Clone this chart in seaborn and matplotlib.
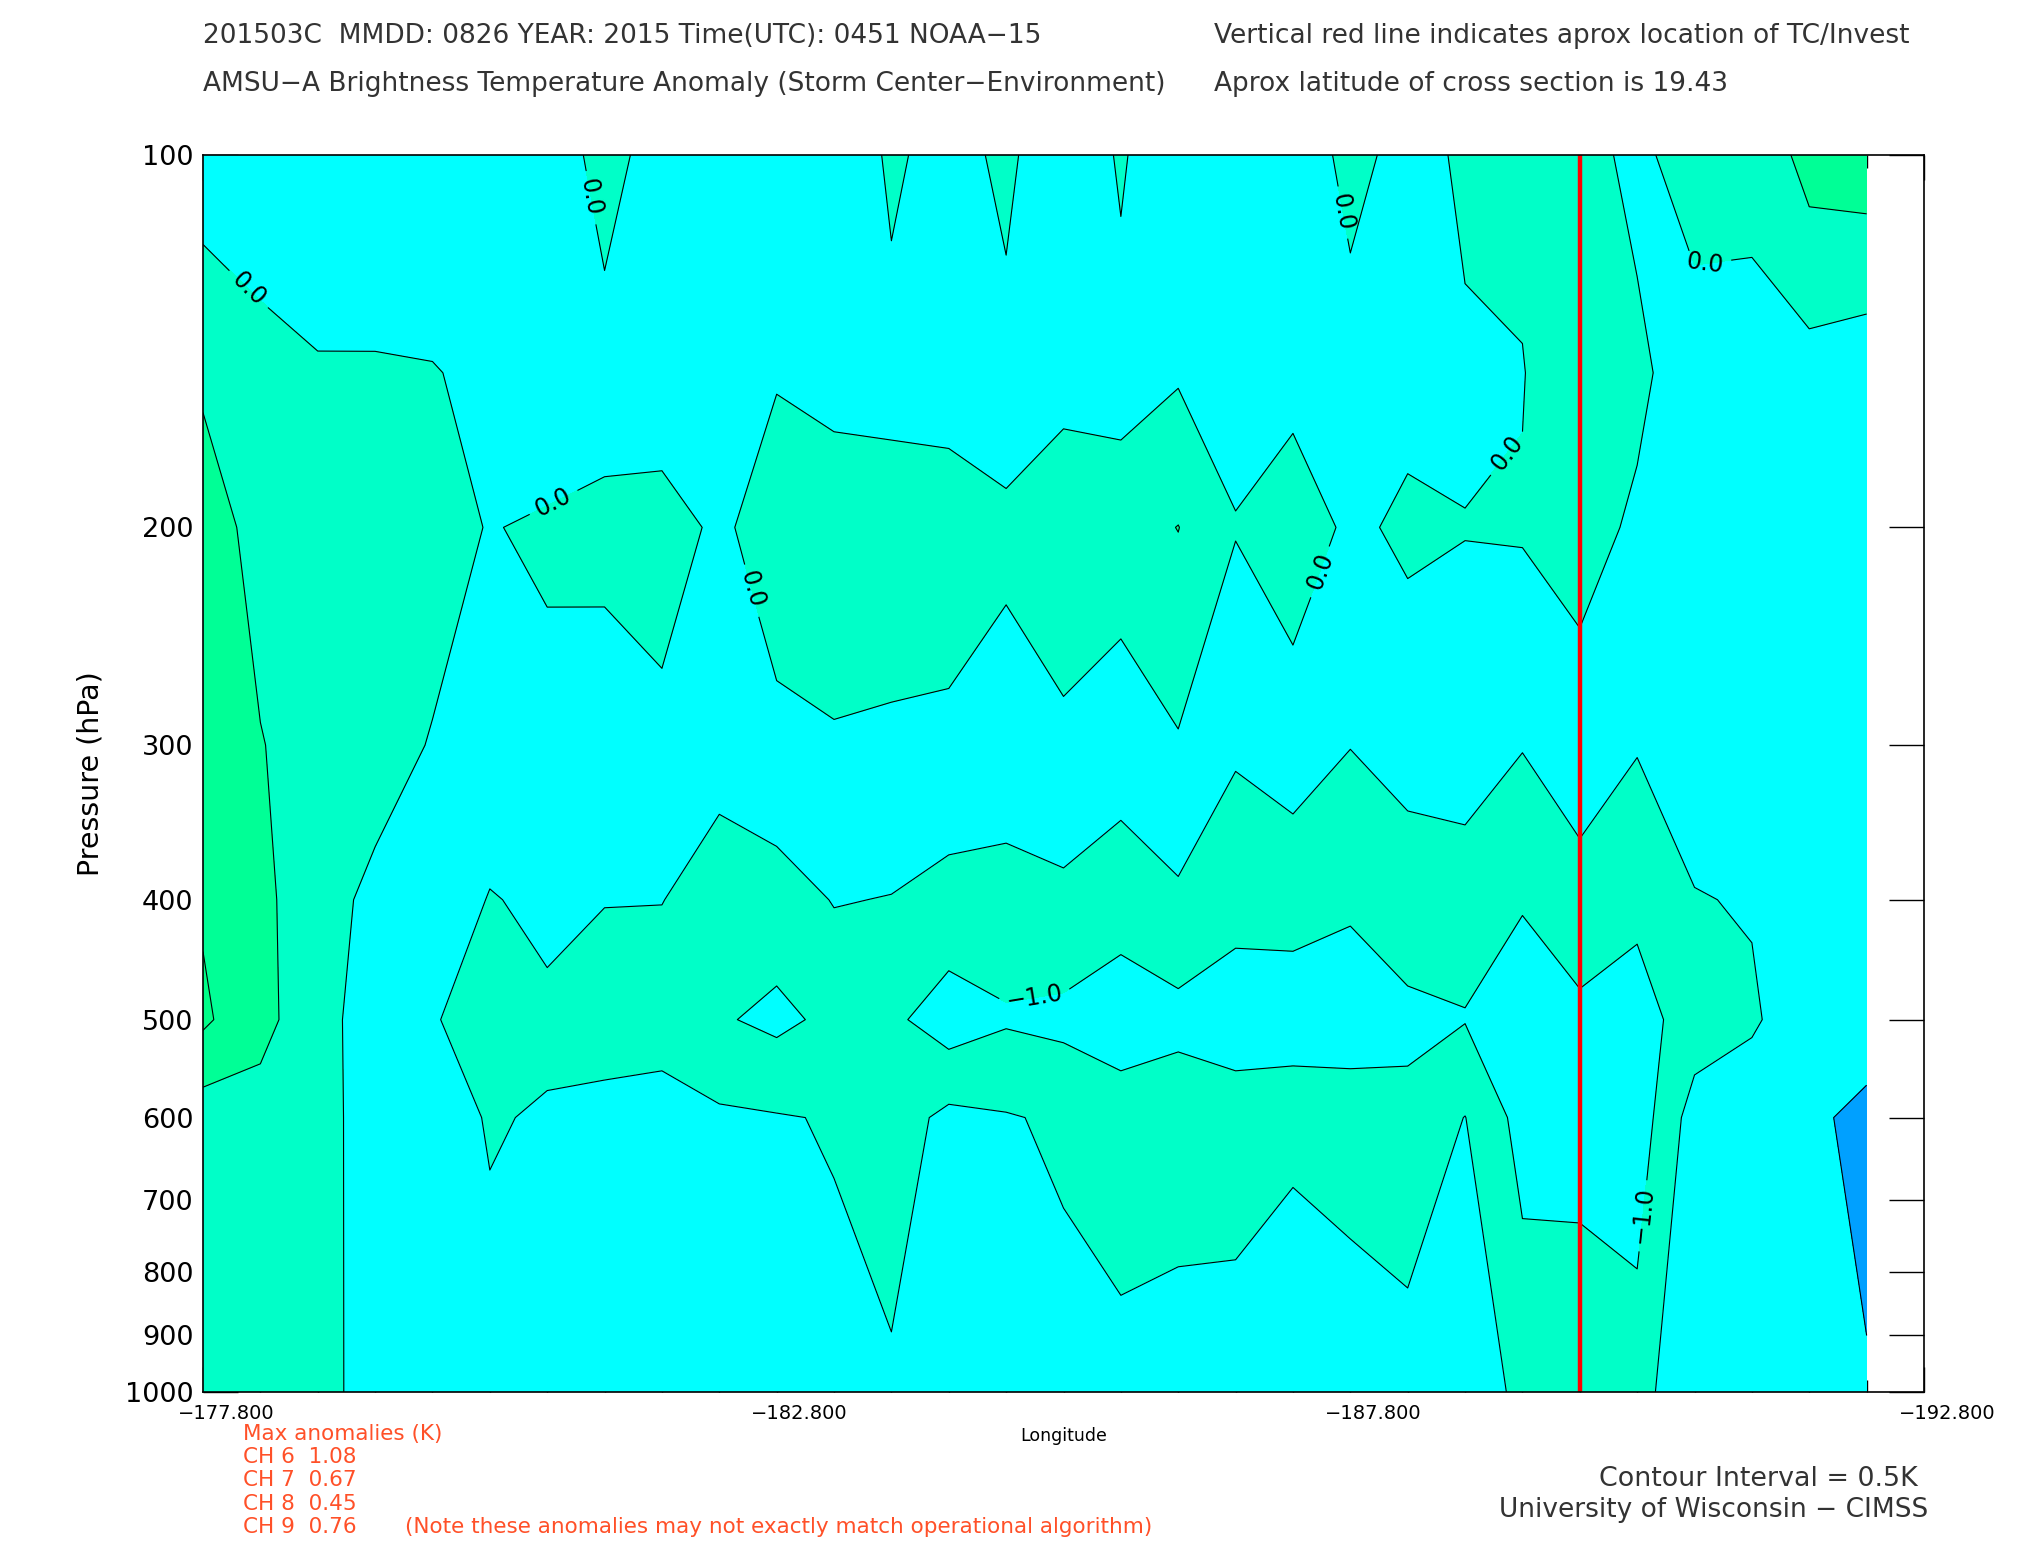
import numpy as np
import pandas as pd
import matplotlib
matplotlib.use("Agg")
import matplotlib.pyplot as plt
import matplotlib.transforms as mtransforms
import seaborn as sns
from matplotlib.ticker import FixedLocator, NullLocator

sns.set_theme(style="white")
plt.rcParams['font.family'] = ['DejaVu Sans']

# ---------------- data ----------------
LONGITUDES = [-177.8, -178.3, -178.8, -179.3, -179.8, -180.3, -180.8, -181.3, -181.8, -182.3,
              -182.8, -183.3, -183.8, -184.3, -184.8, -185.3, -185.8, -186.3, -186.8, -187.3,
              -187.8, -188.3, -188.8, -189.3, -189.8, -190.3, -190.8, -191.3, -191.8, -192.3]
PRESSURE_LEVELS = [100, 150, 200, 300, 400, 500, 600, 1000]

# brightness temperature anomaly (K) along each pressure level
ANOM_100 = [-0.25, -0.33, -0.37, -0.30, -0.30, -0.30, -0.34, 0.20, -0.244, -0.30,
            -0.30, -0.44, 0.09, -0.21, 0.12, -0.43, 0.064, -0.45, -0.30, -0.334,
            0.15, -0.169, 0.072, 0.116, 0.171, -0.12, 0.25, 0.118, 0.68, 0.753]
ANOM_150 = [0.44, 0.20, 0.05, 0.04, 0.02, -0.09, -0.42, -0.217, -0.225, -0.20,
            -0.024, -0.16, -0.17, -0.249, -0.173, -0.123, -0.20, -0.049, -0.183, -0.174,
            -0.225, -0.163, -0.061, -0.022, 0.40, 0.116, -0.30, -0.163, -0.21, -0.34]
ANOM_200 = [0.70, 0.36, 0.30, 0.30, 0.183, -0.025, 0.08, 0.122, 0.15, -0.064,
            0.173, 0.30, 0.255, 0.30, 0.067, 0.25, 0.30, 0.51, 0.025, 0.312,
            -0.104, 0.10, 0.01, 0.04, 0.21, -0.09, -0.20, -0.25, -0.25, -0.25]
ANOM_300 = [0.80, 0.52, 0.30, 0.20, -0.03, -0.27, -0.17, -0.26, -0.10, -0.36,
            -0.089, -0.049, -0.0765, -0.129, -0.149, -0.088, -0.35, -0.05, -0.46, -0.325,
            -0.49, -0.40, -0.19, -0.48, -0.30, -0.47, -0.30, -0.25, -0.25, -0.25]
ANOM_400 = [0.94, 0.62, 0.20, -0.12, -0.25, -0.52, -0.43, -0.484, -0.49, -0.70,
            -0.75, -0.475, -0.518, -0.675, -0.734, -0.623, -0.683, -0.592, -0.727, -0.752,
            -0.927, -0.656, -0.836, -0.95, -0.651, -0.90, -0.52, -0.47, -0.25, -0.25]
ANOM_500 = [1.088, 0.62, 0.25, -0.33, -0.45, -0.80, -0.56, -0.75, -0.75, -0.95,
            -1.109, -0.891, -0.90, -1.25, -1.05, -1.121, -1.42, -1.159, -1.45, -1.368,
            -1.29, -1.15, -1.02, -1.37, -1.136, -1.19, -0.777, -0.56, -0.227, -0.25]
ANOM_600 = [0.211, 0.34, 0.25, -0.306, -0.38, -0.52, -0.475, -0.33, -0.25, -0.42,
            -0.468, -0.532, -0.75, -0.371, -0.465, -0.571, -0.58, -0.646, -0.55, -0.55,
            -0.684, -0.818, -0.49, -1.18, -1.20, -1.286, -0.266, -0.207, -0.40, -0.635]
ANOM_1000 = [0.20, 0.30, 0.25, -0.30, -0.30, -0.39, -0.30, -0.30, -0.30, -0.30,
             -0.30, -0.354, -0.41, -0.30, -0.30, -0.313, -0.444, -0.342, -0.44, -0.31,
             -0.20, -0.25, -0.243, -0.60, -0.585, -0.70, -0.071, -0.20, -0.30, -0.455]

TC_LON = -189.8
X_TICKS = [-177.8, -182.8, -187.8, -192.8]
Y_TICKS = [100, 200, 300, 400, 500, 600, 700, 800, 900, 1000]

FILL_BOUNDS = [-3.0, -1.0, -0.5, 0.0, 0.5, 1.0, 2.0]
FILL_COLORS = ['#00ffff', '#00ffc8', '#00ffff', '#00ffc8', '#00ff96', '#00ff88']
LINE_LEVELS = [-1.0, -0.5, 0.0, 0.5, 1.0]
EDGE_COLUMNS = 2          # swath-edge columns drawn with true colour
EDGE_BOUNDS = [-1.0, -0.5]
EDGE_COLOR = '#00a0ff'

LABEL_LON = [-178.28, -181.21, -180.82, -182.62, -187.78, -187.48, -189.23, -190.95, -185.04, -190.31]
LABEL_P = [126, 108, 188, 224, 111, 216, 176, 135, 476, 718]

MAX_ANOM = ["CH 6  1.08", "CH 7  0.67", "CH 8  0.45", "CH 9  0.76"]

# ---------------- figure ----------------
W, H = 2025, 1550
fig = plt.figure(figsize=(W / 100, H / 100), dpi=100)
fig.patch.set_facecolor('white')


def px(x, y):
    return x / W, 1 - y / H


ax = fig.add_axes([203 / W, (H - 1392) / H, (1924 - 203) / W, (1392 - 155) / H])
ax.set_facecolor('white')

Z = np.array([ANOM_100, ANOM_150, ANOM_200, ANOM_300, ANOM_400, ANOM_500, ANOM_600, ANOM_1000])
LON, P = np.meshgrid(np.array(LONGITUDES), np.array(PRESSURE_LEVELS))

ax.set_yscale('log')
ax.set_xlim(X_TICKS[0], X_TICKS[-1])
ax.set_ylim(Y_TICKS[-1], Y_TICKS[0])

ax.contourf(LON, P, Z, levels=FILL_BOUNDS, colors=FILL_COLORS)
ax.contourf(LON[:, -EDGE_COLUMNS:], P[:, -EDGE_COLUMNS:], Z[:, -EDGE_COLUMNS:],
            levels=EDGE_BOUNDS, colors=[EDGE_COLOR])
cs = ax.contour(LON, P, Z, levels=LINE_LEVELS, colors='black', linewidths=0.8,
                linestyles='solid', negative_linestyles='solid')


def fmt(v):
    return f"{v:.1f}".replace("-", "\u2212")


ax.clabel(cs, fmt=fmt, manual=list(zip(LABEL_LON, LABEL_P)), inline=True,
          inline_spacing=8, fontsize=17, colors='black')

tc = pd.DataFrame({"lon": [TC_LON, TC_LON], "p": [Y_TICKS[0], Y_TICKS[-1]]})
sns.lineplot(data=tc, x="lon", y="p", estimator=None, sort=False, color='#ff0000',
             linewidth=3.2, ax=ax, legend=False)

ax.set_xlim(X_TICKS[0], X_TICKS[-1])
ax.set_ylim(Y_TICKS[-1], Y_TICKS[0])

# ticks
ax.set_xticks(X_TICKS)
ax.set_xticklabels([])
ax.xaxis.set_minor_locator(FixedLocator(LONGITUDES + [X_TICKS[-1]]))
ax.set_yticks(Y_TICKS)
ax.set_yticklabels([str(v) for v in Y_TICKS])
ax.yaxis.set_minor_locator(NullLocator())

ax.tick_params(axis='x', which='major', direction='in', length=18, width=1.0,
               top=True, bottom=True, colors='black')
ax.tick_params(axis='x', which='minor', direction='in', length=9, width=1.0,
               top=True, bottom=True, colors='black')
ax.tick_params(axis='y', which='major', direction='in', length=25, width=1.0,
               left=True, right=True, labelsize=19.5, pad=7, colors='black')
for s in ax.spines.values():
    s.set_visible(True)
    s.set_color('black')
    s.set_linewidth(1.2)

# longitude tick labels (IDL places them slightly right of the tick)
xlab_tr = ax.get_xaxis_transform() + mtransforms.ScaledTranslation(0.23, 0, fig.dpi_scale_trans)
for v in X_TICKS:
    ax.text(v, -0.017, f"{v:.3f}".replace("-", "\u2212"), transform=xlab_tr,
            fontsize=14, ha='center', va='center', color='black', clip_on=False)

ax.set_xlabel("Longitude", fontsize=12.5, color='black')
ax.xaxis.set_label_coords(0.5, -0.028)
ax.set_ylabel("Pressure (hPa)", fontsize=20.5, color='black')
ax.yaxis.set_label_coords(-0.057, 0.5)
ax.grid(False)

# texts
title_kw = dict(fontsize=19, color='#333333', va='center', ha='left')
fig.text(*px(203, 36), "201503C  MMDD: 0826 YEAR: 2015 Time(UTC): 0451 NOAA\u221215", **title_kw)
fig.text(*px(203, 84), "AMSU\u2212A Brightness Temperature Anomaly (Storm Center\u2212Environment)", **title_kw)
fig.text(*px(1214, 36), "Vertical red line indicates aprox location of TC/Invest", **title_kw)
fig.text(*px(1214, 84), "Aprox latitude of cross section is 19.43", **title_kw)

red = '#ff5028'
fig.text(*px(243, 1434), "Max anomalies (K)", fontsize=15.5, color=red, va='center', ha='left')
for i, s in enumerate(MAX_ANOM):
    fig.text(*px(243, 1457 + 23.3 * i), s, fontsize=15.5, color=red, va='center', ha='left')
fig.text(*px(405, 1527), "(Note these anomalies may not exactly match operational algorithm)",
         fontsize=15.5, color=red, va='center', ha='left')

fig.text(*px(1918, 1479), "Contour Interval = 0.5K", fontsize=19.4, color='#333333', va='center', ha='right')
fig.text(*px(1928, 1510), "University of Wisconsin \u2212 CIMSS", fontsize=19, color='#333333',
         va='center', ha='right')

fig.savefig("out.png", dpi=100, facecolor='white')
